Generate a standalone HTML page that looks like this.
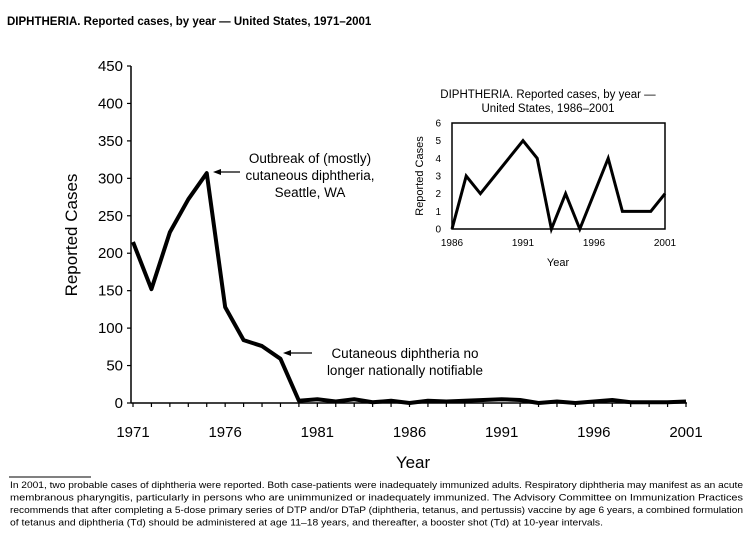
<!DOCTYPE html>
<html><head><style>
body{margin:0;background:#fff;width:751px;height:544px;overflow:hidden;font-family:"Liberation Sans",sans-serif}
</style></head><body>
<svg width="751" height="544" style="position:absolute;left:0;top:0" font-family="Liberation Sans, sans-serif">
<text x="7" y="25" font-size="11.5" font-weight="bold">DIPHTHERIA. Reported cases, by year — United States, 1971–2001</text>
<g stroke="#000" stroke-width="1.5" fill="none">
<line x1="131" y1="66" x2="131" y2="403"/>
<line x1="131" y1="403" x2="687" y2="403"/>
</g>
<g stroke="#000" stroke-width="1.2" id="yt"></g>
<g font-size="15" text-anchor="end" id="yl"></g>
<g font-size="15" text-anchor="middle" id="xl"></g>
<text transform="translate(77,235) rotate(-90)" font-size="17" text-anchor="middle">Reported Cases</text>
<text x="413" y="468" font-size="17" text-anchor="middle">Year</text>
<polyline id="main" fill="none" stroke="#000" stroke-width="4" stroke-linejoin="round"/>
<g font-size="13.5" text-anchor="middle">
<text x="310" y="163">Outbreak of (mostly)</text>
<text x="310" y="180">cutaneous diphtheria,</text>
<text x="310" y="197">Seattle, WA</text>
<text x="405" y="358">Cutaneous diphtheria no</text>
<text x="405" y="375">longer nationally notifiable</text>
</g>
<g stroke="#000" stroke-width="1.2"><line x1="218" y1="172" x2="240" y2="172"/><line x1="288" y1="353" x2="312" y2="353"/></g>
<polygon points="213,172 221,169 221,175"/>
<polygon points="288,353 296,350 296,356" transform="translate(-5,0)"/>
<!-- inset -->
<text x="548" y="98" font-size="11.5" text-anchor="middle">DIPHTHERIA. Reported cases, by year —</text>
<text x="548" y="112" font-size="11.5" text-anchor="middle">United States, 1986–2001</text>
<rect x="452" y="123" width="213" height="106" fill="none" stroke="#000" stroke-width="1.5"/>
<g font-size="10" text-anchor="end" id="iyl"></g>
<g font-size="10" text-anchor="middle">
<text x="452" y="246">1986</text><text x="523" y="246">1991</text><text x="594" y="246">1996</text><text x="665" y="246">2001</text>
</g>
<text x="558" y="266" font-size="11" text-anchor="middle">Year</text>
<text transform="translate(423,176) rotate(-90)" font-size="11" text-anchor="middle">Reported Cases</text>
<polyline id="ins" fill="none" stroke="#000" stroke-width="3" stroke-linejoin="miter"/>
<line x1="9" y1="477" x2="91" y2="477" stroke="#000" stroke-width="1"/>
<g font-size="9.5">
<text x="10" y="488" textLength="733" lengthAdjust="spacingAndGlyphs">In 2001, two probable cases of diphtheria were reported. Both case-patients were inadequately immunized adults. Respiratory diphtheria may manifest as an acute</text>
<text x="10" y="500.5" textLength="733" lengthAdjust="spacingAndGlyphs">membranous pharyngitis, particularly in persons who are unimmunized or inadequately immunized. The Advisory Committee on Immunization Practices</text>
<text x="10" y="513" textLength="733" lengthAdjust="spacingAndGlyphs">recommends that after completing a 5-dose primary series of DTP and/or DTaP (diphtheria, tetanus, and pertussis) vaccine by age 6 years, a combined formulation</text>
<text x="10" y="525.5" textLength="593" lengthAdjust="spacingAndGlyphs">of tetanus and diphtheria (Td) should be administered at age 11–18 years, and thereafter, a booster shot (Td) at 10-year intervals.</text>
</g>
</svg>
<script>
var ns="http://www.w3.org/2000/svg";
function el(p,t,a,txt){var e=document.createElementNS(ns,t);for(var k in a)e.setAttribute(k,a[k]);if(txt!=null)e.textContent=txt;document.getElementById(p).appendChild(e);}
for(var v=0;v<=450;v+=50){var y=403-v*337/450;el("yt","line",{x1:127,y1:y,x2:131,y2:y});el("yl","text",{x:123,y:y+5},v);}
for(var i=0;i<=30;i++){var x=133+i*553/30;el("yt","line",{x1:x,y1:403,x2:x,y2:407});}
[1971,1976,1981,1986,1991,1996,2001].forEach(function(yr){el("xl","text",{x:133+(yr-1971)*553/30,y:437},yr);});
var d=[215,152,228,272,307,128,84,76,59,3,5,2,5,1,3,0,3,2,3,4,5,4,0,2,0,2,4,1,1,1,2];
document.getElementById("main").setAttribute("points",d.map(function(v,i){return (133+i*553/30)+","+(403-v*337/450)}).join(" "));
var di=d.slice(15);
document.getElementById("ins").setAttribute("points",di.map(function(v,i){return (452+i*213/15)+","+(229-v*106/6)}).join(" "));
for(var v=0;v<=6;v++)el("iyl","text",{x:441,y:229-v*106/6+3.5},v);
</script>
</body></html>
